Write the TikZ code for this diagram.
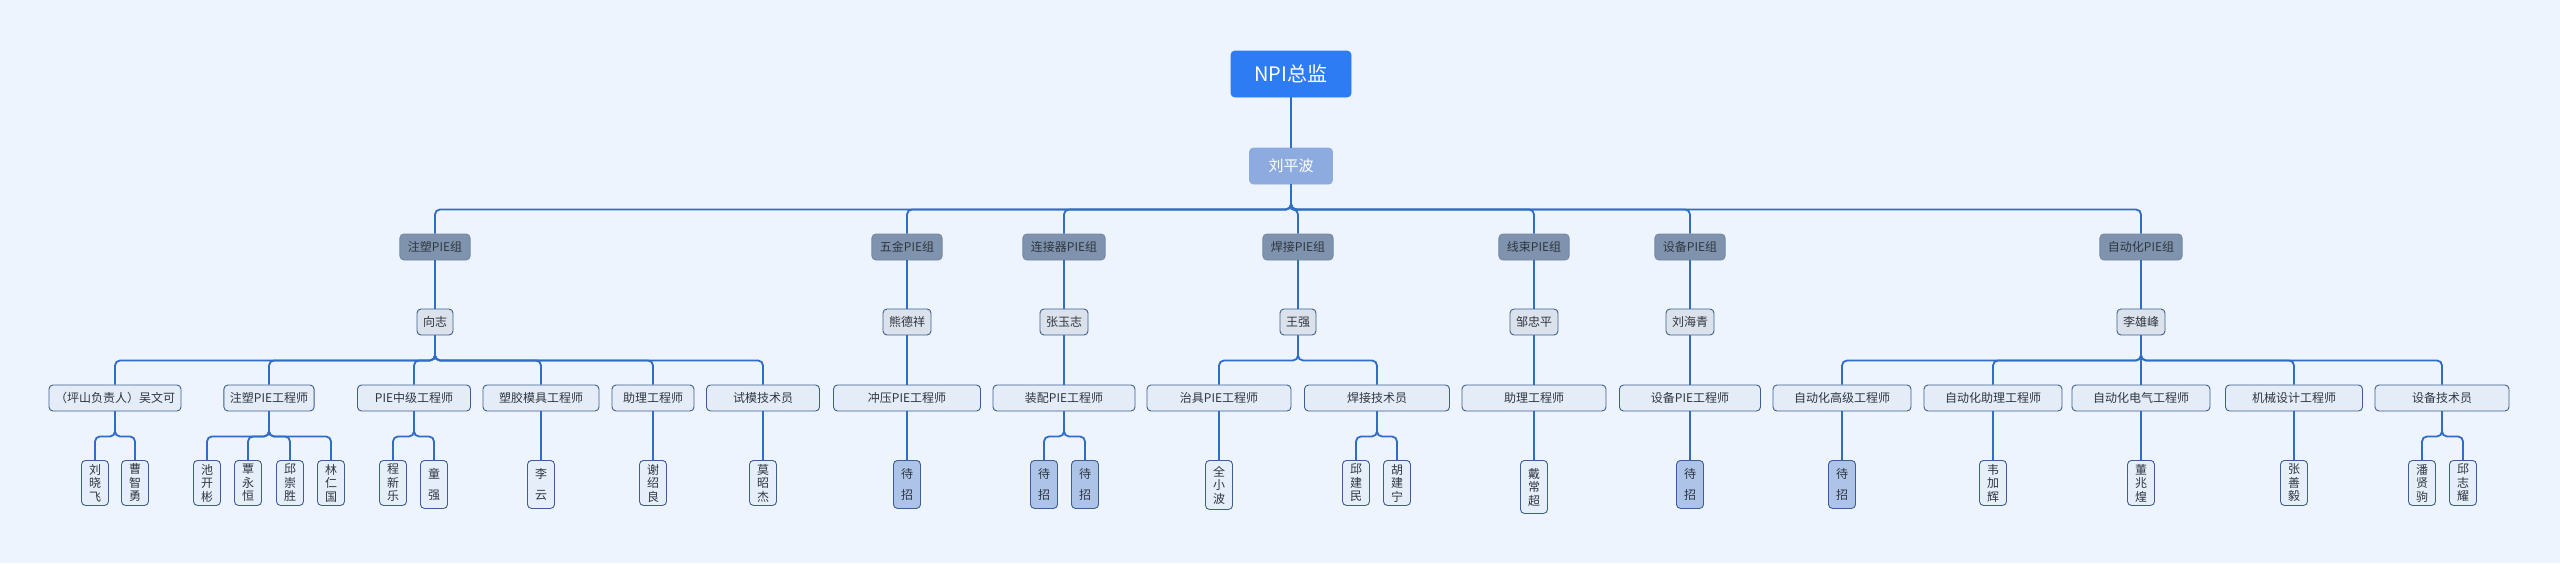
\documentclass[tikz,border=0pt]{standalone}
\usepackage{fontspec}
\newfontfamily\cjk{Noto Sans CJK SC}
\definecolor{bgcol}{HTML}{EEF4FD}
\definecolor{linecol}{HTML}{2F6DC6}
\definecolor{headcol}{HTML}{2E7CF4}
\definecolor{leadcol}{HTML}{8EABDF}
\definecolor{groupcol}{HTML}{8093AE}
\definecolor{groupline}{HTML}{7488A6}
\definecolor{personcol}{HTML}{DCE2EB}
\definecolor{rolecol}{HTML}{E4ECF8}
\definecolor{staffcol}{HTML}{E6EEFA}
\definecolor{vacantcol}{HTML}{ADC3E8}
\definecolor{boxline}{HTML}{3D5E92}
\definecolor{textcol}{HTML}{2E3640}
\begin{document}
\begin{tikzpicture}[x=1pt,y=-1pt,
  line/.style={draw=linecol, line width=1.8pt, rounded corners=5pt},
  box/.style={draw, rounded corners=4pt, line width=0.9pt, font=\cjk\fontsize{12}{13.5}\selectfont, text=textcol, inner xsep=6pt, inner ysep=0pt},
  head/.style={box, fill=headcol, draw=headcol, text=white, minimum width=120, minimum height=46, font=\cjk\fontsize{20}{24}\selectfont},
  lead/.style={box, fill=leadcol, draw=leadcol, text=white, minimum width=83, minimum height=36, font=\cjk\fontsize{15}{18}\selectfont},
  group/.style={box, fill=groupcol, draw=groupline, minimum height=26, inner xsep=8pt},
  person/.style={box, fill=personcol, draw=boxline, minimum height=26},
  role/.style={box, fill=rolecol, draw=boxline, minimum height=26},
  staff/.style={box, fill=staffcol, draw=boxline, minimum width=27, minimum height=45, inner xsep=0pt, align=center, anchor=north},
  vacant/.style={staff, fill=vacantcol, minimum height=48}]
\fill[bgcol] (0,0) rectangle (2560,563);
\useasboundingbox (0,0) rectangle (2560,563);

\node[head] (npi) at (1291,74) {NPI总监};
\node[lead] (lpb) at (1291,166) {刘平波};

\node[group] (zs) at (435,247) {注塑PIE组};
\node[group] (wj) at (907,247) {五金PIE组};
\node[group] (ljq) at (1064,247) {连接器PIE组};
\node[group] (hj) at (1298,247) {焊接PIE组};
\node[group] (xs) at (1534,247) {线束PIE组};
\node[group] (sb) at (1690,247) {设备PIE组};
\node[group] (zdh) at (2141,247) {自动化PIE组};

\node[person] (xz) at (435,322) {向志};
\node[person] (xdx) at (907,322) {熊德祥};
\node[person] (zyz) at (1064,322) {张玉志};
\node[person] (wq) at (1298,322) {王强};
\node[person] (zzp) at (1534,322) {邹忠平};
\node[person] (lhq) at (1690,322) {刘海青};
\node[person] (lxf) at (2141,322) {李雄峰};

\node[role, minimum width=130] (zs1) at (115,398) {（坪山负责人）吴文可};
\node[role, minimum width=90] (zs2) at (269,398) {注塑PIE工程师};
\node[role, minimum width=113] (zs3) at (414,398) {PIE中级工程师};
\node[role, minimum width=116] (zs4) at (541,398) {塑胶模具工程师};
\node[role, minimum width=82] (zs5) at (653,398) {助理工程师};
\node[role, minimum width=113] (zs6) at (763,398) {试模技术员};
\node[role, minimum width=147] (wj1) at (907,398) {冲压PIE工程师};
\node[role, minimum width=142] (ljq1) at (1064,398) {装配PIE工程师};
\node[role, minimum width=144] (hj1) at (1219,398) {治具PIE工程师};
\node[role, minimum width=145] (hj2) at (1377,398) {焊接技术员};
\node[role, minimum width=144] (xs1) at (1534,398) {助理工程师};
\node[role, minimum width=141] (sb1) at (1690,398) {设备PIE工程师};
\node[role, minimum width=138] (zdh1) at (1842,398) {自动化高级工程师};
\node[role, minimum width=138] (zdh2) at (1993,398) {自动化助理工程师};
\node[role, minimum width=138] (zdh3) at (2141,398) {自动化电气工程师};
\node[role, minimum width=137] (zdh4) at (2294,398) {机械设计工程师};
\node[role, minimum width=134] (zdh5) at (2442,398) {设备技术员};

\node[staff] (s1) at (95,460) {刘\\晓\\飞};
\node[staff] (s2) at (135,460) {曹\\智\\勇};
\node[staff] (s3) at (207,460) {池\\开\\彬};
\node[staff] (s4) at (248,460) {覃\\永\\恒};
\node[staff] (s5) at (290,460) {邱\\崇\\胜};
\node[staff] (s6) at (331,460) {林\\仁\\国};
\node[staff] (s7) at (393,460) {程\\新\\乐};
\node[staff, minimum height=48] (s8) at (434,460) {童\\[8pt]强};
\node[staff, minimum height=48] (s9) at (541,460) {李\\[8pt]云};
\node[staff] (s10) at (653,460) {谢\\绍\\良};
\node[staff] (s11) at (763,460) {莫\\昭\\杰};
\node[vacant] (v1) at (907,460) {待\\[7pt]招};
\node[vacant] (v2) at (1044,460) {待\\[7pt]招};
\node[vacant] (v3) at (1085,460) {待\\[7pt]招};
\node[staff, minimum height=49] (s12) at (1219,460) {全\\小\\波};
\node[staff] (s13) at (1356,460) {邱\\建\\民};
\node[staff] (s14) at (1397,460) {胡\\建\\宁};
\node[staff, minimum height=53] (s15) at (1534,460) {戴\\常\\超};
\node[vacant] (v4) at (1690,460) {待\\[7pt]招};
\node[vacant] (v5) at (1842,460) {待\\[7pt]招};
\node[staff] (s16) at (1993,460) {韦\\加\\辉};
\node[staff] (s17) at (2141,460) {董\\兆\\煌};
\node[staff] (s18) at (2294,460) {张\\善\\毅};
\node[staff] (s19) at (2422,460) {潘\\贤\\驹};
\node[staff] (s20) at (2463,460) {邱\\志\\耀};

\draw[line] (npi) -- (lpb);
\draw[line] (lpb.south) -- ++(0,25) -| (zs.north);
\draw[line] (lpb.south) -- ++(0,25) -| (wj.north);
\draw[line] (lpb.south) -- ++(0,25) -| (ljq.north);
\draw[line] (lpb.south) -- ++(0,25) -| (hj.north);
\draw[line] (lpb.south) -- ++(0,25) -| (xs.north);
\draw[line] (lpb.south) -- ++(0,25) -| (sb.north);
\draw[line] (lpb.south) -- ++(0,25) -| (zdh.north);

\draw[line] (zs) -- (xz);
\draw[line] (wj) -- (xdx);
\draw[line] (ljq) -- (zyz);
\draw[line] (hj) -- (wq);
\draw[line] (xs) -- (zzp);
\draw[line] (sb) -- (lhq);
\draw[line] (zdh) -- (lxf);

\draw[line] (xz.south) -- ++(0,25) -| (zs1.north);
\draw[line] (xz.south) -- ++(0,25) -| (zs2.north);
\draw[line] (xz.south) -- ++(0,25) -| (zs3.north);
\draw[line] (xz.south) -- ++(0,25) -| (zs4.north);
\draw[line] (xz.south) -- ++(0,25) -| (zs5.north);
\draw[line] (xz.south) -- ++(0,25) -| (zs6.north);
\draw[line] (xdx) -- (wj1);
\draw[line] (zyz) -- (ljq1);
\draw[line] (wq.south) -- ++(0,25) -| (hj1.north);
\draw[line] (wq.south) -- ++(0,25) -| (hj2.north);
\draw[line] (zzp) -- (xs1);
\draw[line] (lhq) -- (sb1);
\draw[line] (lxf.south) -- ++(0,25) -| (zdh1.north);
\draw[line] (lxf.south) -- ++(0,25) -| (zdh2.north);
\draw[line] (lxf) -- (zdh3);
\draw[line] (lxf.south) -- ++(0,25) -| (zdh4.north);
\draw[line] (lxf.south) -- ++(0,25) -| (zdh5.north);

\draw[line] (zs1.south) -- ++(0,25) -| (s1.north);
\draw[line] (zs1.south) -- ++(0,25) -| (s2.north);
\draw[line] (zs2.south) -- ++(0,25) -| (s3.north);
\draw[line] (zs2.south) -- ++(0,25) -| (s4.north);
\draw[line] (zs2.south) -- ++(0,25) -| (s5.north);
\draw[line] (zs2.south) -- ++(0,25) -| (s6.north);
\draw[line] (zs3.south) -- ++(0,25) -| (s7.north);
\draw[line] (zs3.south) -- ++(0,25) -| (s8.north);
\draw[line] (zs4) -- (s9);
\draw[line] (zs5) -- (s10);
\draw[line] (zs6) -- (s11);
\draw[line] (wj1) -- (v1);
\draw[line] (ljq1.south) -- ++(0,25) -| (v2.north);
\draw[line] (ljq1.south) -- ++(0,25) -| (v3.north);
\draw[line] (hj1) -- (s12);
\draw[line] (hj2.south) -- ++(0,25) -| (s13.north);
\draw[line] (hj2.south) -- ++(0,25) -| (s14.north);
\draw[line] (xs1) -- (s15);
\draw[line] (sb1) -- (v4);
\draw[line] (zdh1) -- (v5);
\draw[line] (zdh2) -- (s16);
\draw[line] (zdh3) -- (s17);
\draw[line] (zdh4) -- (s18);
\draw[line] (zdh5.south) -- ++(0,25) -| (s19.north);
\draw[line] (zdh5.south) -- ++(0,25) -| (s20.north);
\end{tikzpicture}
\end{document}
